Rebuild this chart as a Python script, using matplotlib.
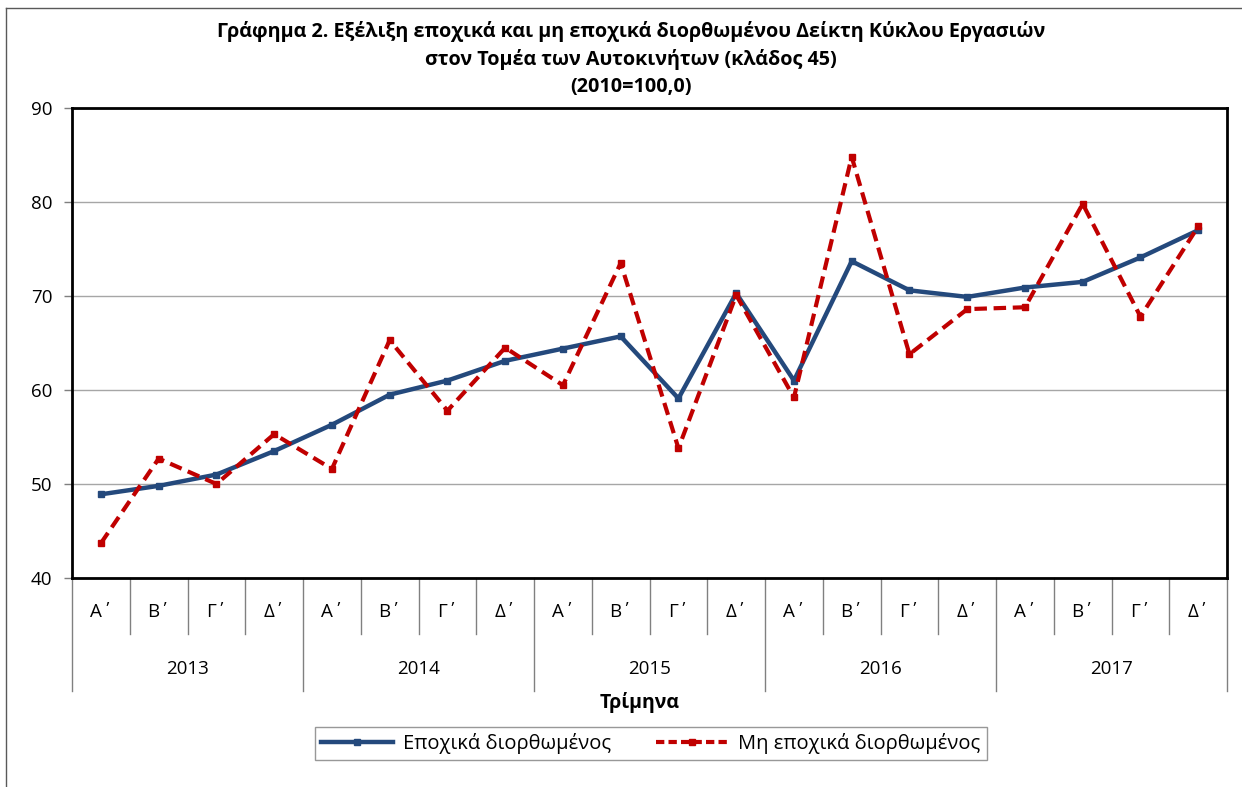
import matplotlib
matplotlib.use("Agg")
import matplotlib.pyplot as plt
import matplotlib.transforms as mtransforms
from matplotlib.lines import Line2D

plt.rcParams['font.family'] = ['Open Sans', 'DejaVu Sans']

# Data
years = ['2013', '2014', '2015', '2016', '2017']
quarters = ['Α΄', 'Β΄', 'Γ΄', 'Δ΄']
seasonal_adj = [48.9, 49.8, 51.0, 53.5,
                56.3, 59.5, 61.0, 63.1,
                64.4, 65.7, 59.1, 70.3,
                61.0, 73.7, 70.6, 69.9,
                70.9, 71.5, 74.1, 77.0]
non_adj = [43.7, 52.7, 50.0, 55.3,
           51.6, 65.3, 57.8, 64.5,
           60.5, 73.5, 53.8, 70.1,
           59.2, 84.8, 63.8, 68.6,
           68.8, 79.8, 67.8, 77.4]

title = ('Γράφημα 2. Εξέλιξη εποχικά και μη εποχικά διορθωμένου Δείκτη Κύκλου Εργασιών\n'
         'στον Τομέα των Αυτοκινήτων (κλάδος 45)\n(2010=100,0)')

blue = '#24497C'
red = '#C00000'

fig = plt.figure(figsize=(12.42, 7.87), dpi=100)
ax = fig.add_axes([0.058, 0.2656, 0.930, 0.5972])

n = len(seasonal_adj)
x = list(range(n))
ax.plot(x, seasonal_adj, color=blue, lw=3.2, marker='s', ms=5, zorder=3,
        label='Εποχικά διορθωμένος')
ax.plot(x, non_adj, color=red, lw=3.0, ls=(0, (3, 1.6)), marker='s', ms=5, zorder=4,
        label='Μη εποχικά διορθωμένος')

ax.set_xlim(-0.5, n - 0.5)
ax.set_ylim(40, 90)
ax.set_yticks([40, 50, 60, 70, 80, 90])
ax.yaxis.grid(True, color='#A6A6A6', lw=1)
ax.set_axisbelow(True)
for s in ax.spines.values():
    s.set_linewidth(2)
    s.set_color('black')
ax.tick_params(axis='y', direction='out', length=6, width=1, labelsize=13.5, pad=8,
               color='#7F7F7F')
ax.set_xticks([])

# two-level category axis
trans = mtransforms.blended_transform_factory(ax.transData, ax.transAxes)
for i in range(n + 1):
    xb = i - 0.5
    if i % len(quarters) == 0:
        ybot = -0.24
    else:
        ybot = -0.12
    ax.plot([xb, xb], [0, ybot], transform=trans, color='#808080', lw=1, clip_on=False)
for i in range(n):
    ax.text(i, -0.073, quarters[i % len(quarters)], transform=trans,
            ha='center', va='center', fontsize=13.5)
for j, yr in enumerate(years):
    xc = j * len(quarters) + (len(quarters) - 1) / 2
    ax.text(xc, -0.193, yr, transform=trans, ha='center', va='center', fontsize=13.5)

fig.text(0.515, 0.108, 'Τρίμηνα', ha='center', va='center', fontsize=14,
         fontweight='bold')
fig.text(0.508, 0.925, title, ha='center', va='center', fontsize=14.2,
         fontweight='bold', linespacing=1.45)

handles = [Line2D([], [], color=blue, lw=3.2, marker='s', ms=4),
           Line2D([], [], color=red, lw=3.0, ls=(0, (2, 1)), marker='s', ms=4)]
leg = fig.legend(handles, ['Εποχικά διορθωμένος', 'Μη εποχικά διορθωμένος'],
                 loc='center', bbox_to_anchor=(0.524, 0.0555), ncol=2,
                 fontsize=14.5, frameon=True, fancybox=False, edgecolor='#7F7F7F',
                 handlelength=3.6, columnspacing=2.2, borderpad=0.3, handletextpad=0.5,
                 borderaxespad=0)
leg.get_frame().set_linewidth(1)
for t in leg.get_texts():
    pass

# outer chart border (left and top visible)
fig.add_artist(Line2D([0.005, 0.005], [0.0, 0.99], color='#595959', lw=1,
                      transform=fig.transFigure))
fig.add_artist(Line2D([0.005, 1.0], [0.99, 0.99], color='#595959', lw=1,
                      transform=fig.transFigure))

fig.savefig('out.png', dpi=100)
